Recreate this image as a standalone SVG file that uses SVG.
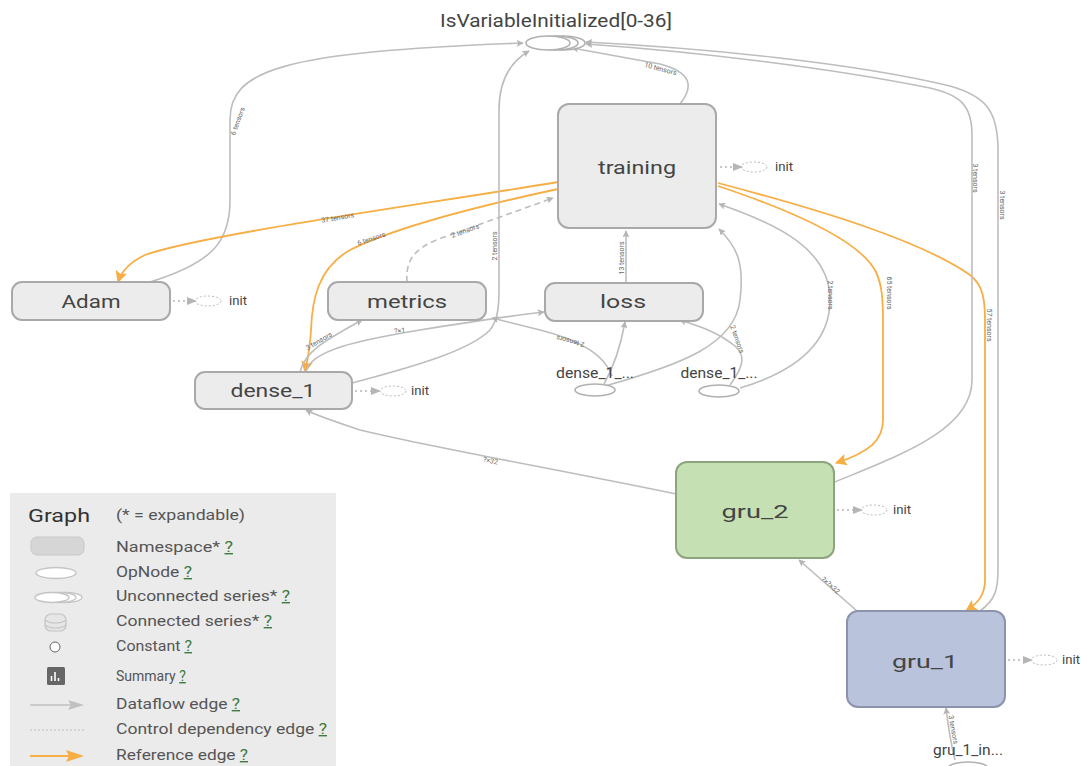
<svg xmlns="http://www.w3.org/2000/svg" width="1081" height="766" viewBox="0 0 1081 766">
  <defs>
    <marker id="arrGray" viewBox="0 0 10 10" refX="9" refY="5" markerWidth="7" markerHeight="7" orient="auto" markerUnits="userSpaceOnUse">
      <path d="M0,0 L10,5 L0,10 L2,5 z" fill="#b5b5b5"/>
    </marker>
    <marker id="arrOrange" viewBox="0 0 10 10" refX="9" refY="5" markerWidth="12" markerHeight="12" orient="auto" markerUnits="userSpaceOnUse">
      <path d="M0,0 L10,5 L0,10 L2,5 z" fill="#f6ae45"/>
    </marker>
    <marker id="arrInit" viewBox="0 0 10 10" refX="9" refY="5" markerWidth="10" markerHeight="10" orient="auto" markerUnits="userSpaceOnUse">
      <path d="M0,1 L10,5 L0,9 z" fill="#b5b5b5"/>
    </marker>
  </defs>
  <style>
    .ns { fill: #ececec; stroke: #a9a9a9; stroke-width: 2; }
    .lbl { font-family: Roboto, "Liberation Sans", sans-serif; fill: #444; text-anchor: middle; }
    .big { font-size: 19px; }
    .mid { font-size: 14px; }
    .small { font-family: Roboto, "Liberation Sans", sans-serif; font-size: 12px; fill: #444; }
    .edge { fill: none; stroke: #bdbdbd; stroke-width: 1.6; }
    .ref { fill: none; stroke: #f6ae45; stroke-width: 1.8; }
    .ctrl { fill: none; stroke: #bdbdbd; stroke-width: 1.6; stroke-dasharray: 6 4; }
    .elbl { font-family: Roboto, "Liberation Sans", sans-serif; font-size: 7px; fill: #666; text-anchor: middle; }
    .initline { stroke: #b5b5b5; stroke-width: 1.4; stroke-dasharray: 2 3; fill: none; }
    .initell { fill: none; stroke: #bbb; stroke-width: 1; stroke-dasharray: 2 2; }
    .op { fill: #fff; stroke: #b0b0b0; stroke-width: 1.6; }
    .leg { font-family: Roboto, "Liberation Sans", sans-serif; font-size: 14px; fill: #555; }
    .q { fill: #3d7a3d; text-decoration: underline; }
  </style>

  <rect x="0" y="0" width="1081" height="766" fill="#ffffff"/>

  <!-- connectors -->
  <g id="edges">
    <!-- Adam -> IsVariableInitialized -->
    <path class="edge" d="M150,282 C215,262 230,240 230,200 L230,120 C230,70 280,52 523,43" marker-end="url(#arrGray)"/>
    <text class="elbl" transform="translate(240,122) rotate(-70)">6 tensors</text>
    <!-- training -> Adam (reference) -->
    <path class="ref" d="M558,182 C420,205 200,235 145,255 C130,262 122,270 118,282" marker-end="url(#arrOrange)"/>
    <text class="elbl" transform="translate(338,220) rotate(-10)">37 tensors</text>
    <!-- training -> dense_1 (reference) -->
    <path class="ref" d="M558,189 C460,210 390,230 350,250 C318,268 312,300 311,330 C310,350 307,362 305,372" marker-end="url(#arrOrange)"/>
    <text class="elbl" transform="translate(372,241) rotate(-18)">6 tensors</text>
    <!-- metrics -> training (control) -->
    <path class="ctrl" d="M407,282 C405,255 420,245 450,235 L553,198" marker-end="url(#arrGray)"/>
    <text class="elbl" transform="translate(466,233) rotate(-20)">2 tensors</text>
    <!-- dense_1 -> IsVariableInitialized -->
    <path class="edge" d="M352,383 C420,365 470,350 490,330 C498,320 499,305 499,290 L499,110 C499,80 510,62 529,51" marker-end="url(#arrGray)"/>
    <text class="elbl" transform="translate(497,246) rotate(-90)">2 tensors</text>
    <!-- dense_1 -> metrics -->
    <path class="edge" d="M300,372 C305,350 330,338 362,320" marker-end="url(#arrGray)"/>
    <text class="elbl" transform="translate(320,343) rotate(-30)">3 tensors</text>
    <!-- dense_1 -> loss -->
    <path class="edge" d="M306,372 C310,350 360,340 420,330 C470,322 510,316 544,312" marker-end="url(#arrGray)"/>
    <text class="elbl" transform="translate(400,333) rotate(-5)">?×1</text>
    <!-- dense_1_... -> metrics -->
    <path class="edge" d="M612,376 C605,355 580,340 540,330 L492,318" marker-end="url(#arrGray)"/>
    <text class="elbl" transform="translate(571,339) rotate(195)">2 tensors</text>
    <!-- dense_1_... -> loss -->
    <path class="edge" d="M604,384 C612,370 620,350 625,322" marker-end="url(#arrGray)"/>
    <!-- dense_1_... -> training -->
    <path class="edge" d="M605,386 C680,365 735,345 740,300 C745,260 735,245 719,229" marker-end="url(#arrGray)"/>
    <!-- second dense_1_... -> loss -->
    <path class="edge" d="M730,385 C745,365 745,355 735,346 C715,330 695,325 680,320" marker-end="url(#arrGray)"/>
    <text class="elbl" transform="translate(735,340) rotate(70)">2 tensors</text>
    <!-- second dense_1_... -> training -->
    <path class="edge" d="M740,388 C800,370 830,340 830,300 C830,250 780,225 719,204" marker-end="url(#arrGray)"/>
    <text class="elbl" transform="translate(828,295) rotate(90)">2 tensors</text>
    <!-- loss -> training -->
    <path class="edge" d="M626,283 L626,231" marker-end="url(#arrGray)"/>
    <text class="elbl" transform="translate(624,258) rotate(-90)">13 tensors</text>
    <!-- training -> IsVariableInitialized -->
    <path class="edge" d="M680,104 C695,85 690,72 660,64 L572,48" marker-end="url(#arrGray)"/>
    <text class="elbl" transform="translate(660,71) rotate(15)">10 tensors</text>
    <!-- training -> gru_2 (reference) -->
    <path class="ref" d="M718,186 C790,210 860,240 876,272 C882,285 883,300 883,320 L883,420 C883,440 870,452 836,463" marker-end="url(#arrOrange)"/>
    <text class="elbl" transform="translate(887,293) rotate(90)">65 tensors</text>
    <!-- training -> gru_1 (reference) -->
    <path class="ref" d="M718,183 C820,210 920,240 970,275 C983,285 985,300 985,320 L985,580 C985,595 978,603 966,611" marker-end="url(#arrOrange)"/>
    <text class="elbl" transform="translate(987,325) rotate(90)">57 tensors</text>
    <!-- gru_2 -> IsVariableInitialized -->
    <path class="edge" d="M835,482 C900,455 972,430 972,380 L972,135 C972,105 960,95 930,88 C830,68 700,52 586,44" marker-end="url(#arrGray)"/>
    <text class="elbl" transform="translate(973,178) rotate(90)">3 tensors</text>
    <!-- gru_1 -> IsVariableInitialized -->
    <path class="edge" d="M980,611 C995,600 998,590 998,570 L998,150 C998,110 985,96 950,86 C850,62 700,48 586,42" marker-end="url(#arrGray)"/>
    <text class="elbl" transform="translate(1000,205) rotate(90)">3 tensors</text>
    <!-- gru_2 -> dense_1 -->
    <path class="edge" d="M676,494 C560,470 420,445 360,430 C330,420 315,415 306,410" marker-end="url(#arrGray)"/>
    <text class="elbl" transform="translate(490,463) rotate(12)">?×32</text>
    <!-- gru_1 -> gru_2 -->
    <path class="edge" d="M857,611 L799,560" marker-end="url(#arrGray)"/>
    <text class="elbl" transform="translate(829,587) rotate(42)">?×?×32</text>
    <!-- gru_1_in... -> gru_1 -->
    <path class="edge" d="M955,760 C950,740 948,725 946,708" marker-end="url(#arrGray)"/>
    <text class="elbl" transform="translate(951,730) rotate(80)">3 tensors</text>
  </g>

  <!-- IsVariableInitialized series: stacked ellipses drawn back to front -->
  <g id="isVariableInitialized">
    <text class="lbl" x="556" y="27" style="font-size:19px" textLength="232" lengthAdjust="spacingAndGlyphs">IsVariableInitialized[0-36]</text>
    <ellipse class="op" cx="563" cy="43" rx="22" ry="7"/>
    <ellipse class="op" cx="556" cy="43" rx="22" ry="7"/>
    <ellipse class="op" cx="548" cy="43" rx="22" ry="7"/>
  </g>

  <g id="training">
    <rect class="ns" x="558" y="104" width="158" height="124" rx="11"/>
    <text class="lbl big" x="637" y="174" textLength="78" lengthAdjust="spacingAndGlyphs">training</text>
    <path class="initline" d="M720,167 L742,167" marker-end="url(#arrInit)"/>
    <ellipse class="initell" cx="754" cy="167" rx="13" ry="5"/>
    <text class="small" x="775" y="171" textLength="18" lengthAdjust="spacingAndGlyphs">init</text>
  </g>

  <g id="adam">
    <rect class="ns" x="12" y="282" width="158" height="38" rx="10"/>
    <text class="lbl big" x="91" y="308" textLength="59" lengthAdjust="spacingAndGlyphs">Adam</text>
    <path class="initline" d="M173,301 L196,301" marker-end="url(#arrInit)"/>
    <ellipse class="initell" cx="208" cy="301" rx="13" ry="5"/>
    <text class="small" x="229" y="305" textLength="18" lengthAdjust="spacingAndGlyphs">init</text>
  </g>

  <g id="metrics">
    <rect class="ns" x="328" y="282" width="158" height="38" rx="10"/>
    <text class="lbl big" x="407" y="308" textLength="80" lengthAdjust="spacingAndGlyphs">metrics</text>
  </g>

  <g id="loss">
    <rect class="ns" x="545" y="283" width="158" height="38" rx="10"/>
    <text class="lbl big" x="623" y="308" textLength="46" lengthAdjust="spacingAndGlyphs">loss</text>
  </g>

  <g id="dense_1">
    <rect class="ns" x="195" y="372" width="157" height="37" rx="10"/>
    <text class="lbl big" x="273" y="397" textLength="85" lengthAdjust="spacingAndGlyphs">dense_1</text>
    <path class="initline" d="M355,391 L380,391" marker-end="url(#arrInit)"/>
    <ellipse class="initell" cx="393" cy="391" rx="13" ry="5"/>
    <text class="small" x="411" y="395" textLength="18" lengthAdjust="spacingAndGlyphs">init</text>
  </g>

  <g id="dense_1_a">
    <text class="lbl mid" x="595" y="378" textLength="78" lengthAdjust="spacingAndGlyphs">dense_1_...</text>
    <ellipse class="op" cx="595" cy="390" rx="20" ry="6"/>
  </g>

  <g id="dense_1_b">
    <text class="lbl mid" x="719" y="378" textLength="77" lengthAdjust="spacingAndGlyphs">dense_1_...</text>
    <ellipse class="op" cx="719" cy="391" rx="20" ry="6"/>
  </g>

  <g id="gru_2">
    <rect x="676" y="462" width="158" height="96" rx="11" fill="#c5e0b3" stroke="#8da57f" stroke-width="2"/>
    <text class="lbl big" x="755" y="518" textLength="67" lengthAdjust="spacingAndGlyphs">gru_2</text>
    <path class="initline" d="M837,510 L862,510" marker-end="url(#arrInit)"/>
    <ellipse class="initell" cx="874" cy="510" rx="13" ry="5"/>
    <text class="small" x="893" y="514" textLength="18" lengthAdjust="spacingAndGlyphs">init</text>
  </g>

  <g id="gru_1">
    <rect x="847" y="611" width="158" height="96" rx="11" fill="#b9c3dc" stroke="#8c94ad" stroke-width="2"/>
    <text class="lbl big" x="925" y="668" textLength="66" lengthAdjust="spacingAndGlyphs">gru_1</text>
    <path class="initline" d="M1008,660 L1032,660" marker-end="url(#arrInit)"/>
    <ellipse class="initell" cx="1044" cy="660" rx="13" ry="5"/>
    <text class="small" x="1062" y="664" textLength="18" lengthAdjust="spacingAndGlyphs">init</text>
  </g>

  <g id="gru_1_input">
    <text class="lbl mid" x="968" y="755" textLength="70" lengthAdjust="spacingAndGlyphs">gru_1_in...</text>
    <ellipse class="op" cx="968" cy="768" rx="20" ry="6"/>
  </g>

  <!-- legend panel -->
  <g id="legend">
    <rect x="10" y="493" width="326" height="273" fill="#ebebeb"/>
    <text x="28" y="522" textLength="62" lengthAdjust="spacingAndGlyphs" style="font-family:Roboto,'Liberation Sans',sans-serif;font-size:19px;fill:#333">Graph</text>
    <text class="leg" x="116" y="520" textLength="129" lengthAdjust="spacingAndGlyphs">(* = expandable)</text>

    <rect x="31" y="537" width="53" height="18" rx="6" fill="#d6d6d6" stroke="#c8c8c8"/>
    <text class="leg" x="116" y="552" textLength="117" lengthAdjust="spacingAndGlyphs">Namespace* <tspan class="q">?</tspan></text>

    <ellipse cx="56" cy="573" rx="20" ry="5.5" fill="#fff" stroke="#c4c4c4" stroke-width="1.4"/>
    <text class="leg" x="116" y="577" textLength="76" lengthAdjust="spacingAndGlyphs">OpNode <tspan class="q">?</tspan></text>

    <ellipse cx="65" cy="597.5" rx="17" ry="5" fill="#fff" stroke="#c4c4c4" stroke-width="1.3"/>
    <ellipse cx="59" cy="597.5" rx="17" ry="5" fill="#fff" stroke="#c4c4c4" stroke-width="1.3"/>
    <ellipse cx="52" cy="597.5" rx="17" ry="5" fill="#fff" stroke="#c4c4c4" stroke-width="1.4"/>
    <text class="leg" x="116" y="601" textLength="174" lengthAdjust="spacingAndGlyphs">Unconnected series* <tspan class="q">?</tspan></text>

    <g fill="#e6e6e6" stroke="#c4c4c4" stroke-width="1.2">
      <rect x="45" y="614" width="21" height="17" rx="6"/>
      <path d="M45,620 C50,624 61,624 66,620" fill="none"/>
      <path d="M45,625 C50,629 61,629 66,625" fill="none"/>
    </g>
    <text class="leg" x="116" y="626" textLength="156" lengthAdjust="spacingAndGlyphs">Connected series* <tspan class="q">?</tspan></text>

    <circle cx="55" cy="647" r="5" fill="#fff" stroke="#666" stroke-width="1"/>
    <text class="leg" x="116" y="651" textLength="76" lengthAdjust="spacingAndGlyphs">Constant <tspan class="q">?</tspan></text>

    <rect x="47" y="667" width="18" height="18" rx="1.5" fill="#666"/>
    <g stroke="#fff" stroke-width="1.6">
      <line x1="51.5" y1="681" x2="51.5" y2="676"/>
      <line x1="55" y1="681" x2="55" y2="672"/>
      <line x1="58.5" y1="681" x2="58.5" y2="678"/>
    </g>
    <text class="leg" x="116" y="681">Summary <tspan class="q">?</tspan></text>

    <line x1="30" y1="705" x2="78" y2="705" stroke="#c0c0c0" stroke-width="1.4"/>
    <path d="M68,700 L84,705 L68,710 L71,705 z" fill="#c0c0c0"/>
    <text class="leg" x="116" y="709" textLength="124" lengthAdjust="spacingAndGlyphs">Dataflow edge <tspan class="q">?</tspan></text>

    <line x1="30" y1="730" x2="84" y2="730" stroke="#c0c0c0" stroke-width="1" stroke-dasharray="2 2"/>
    <text class="leg" x="116" y="734" textLength="211" lengthAdjust="spacingAndGlyphs">Control dependency edge <tspan class="q">?</tspan></text>

    <line x1="30" y1="756" x2="76" y2="756" stroke="#f6ae45" stroke-width="1.8"/>
    <path d="M66,750 L84,756 L66,762 L69,756 z" fill="#f6ae45"/>
    <text class="leg" x="116" y="760" textLength="132" lengthAdjust="spacingAndGlyphs">Reference edge <tspan class="q">?</tspan></text>
  </g>
</svg>
